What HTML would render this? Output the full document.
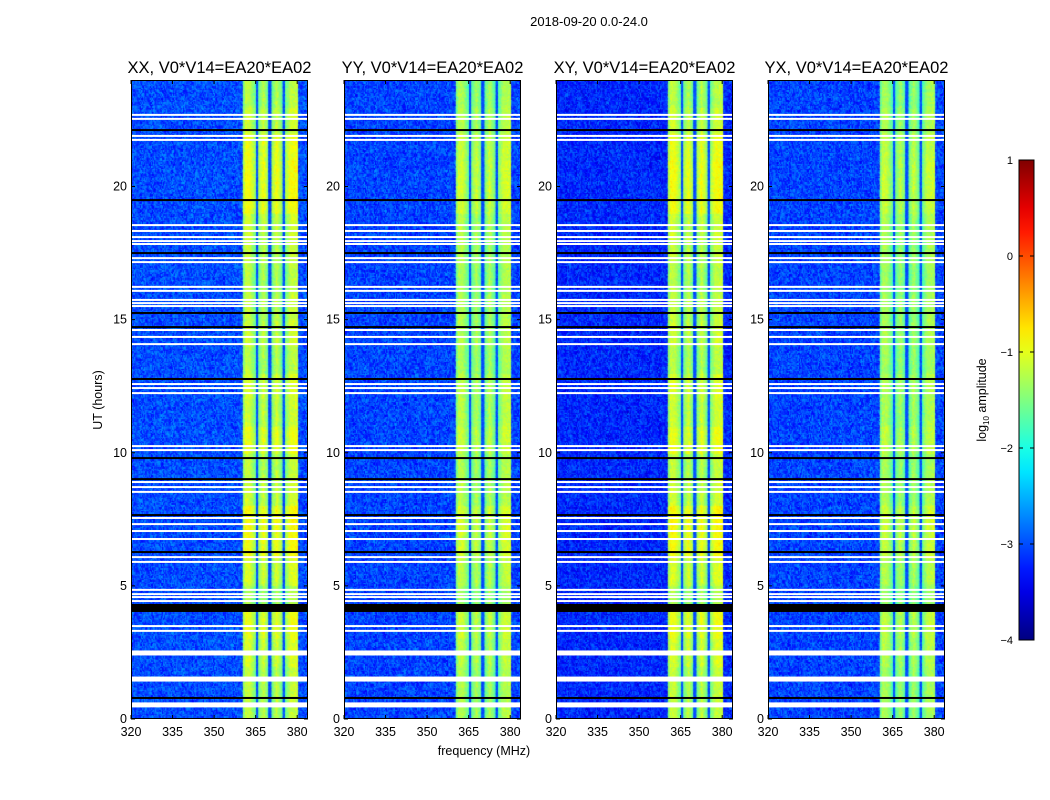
<!DOCTYPE html>
<html><head><meta charset="utf-8">
<style>
html,body{margin:0;padding:0;background:#fff;}
body{width:1050px;height:800px;position:relative;overflow:hidden;font-family:"Liberation Sans","DejaVu Sans",sans-serif;}
</style></head>
<body>
<svg id="fig" width="1050" height="800" viewBox="0 0 1050 800" xmlns="http://www.w3.org/2000/svg" style="position:absolute;left:0;top:0">
<text x="589" y="26" font-size="13" text-anchor="middle" fill="#000">2018-09-20 0.0-24.0</text>
<text x="0" y="0" font-size="12.5" text-anchor="middle" transform="translate(102,400) rotate(-90)">UT (hours)</text>
<text x="484" y="755" font-size="12.5" text-anchor="middle">frequency (MHz)</text>
<g id="panels"></g>
<g id="cbar"></g>
</svg>
<script>
// ---- data ----
const panelTitles = ["XX, V0*V14=EA20*EA02","YY, V0*V14=EA20*EA02","XY, V0*V14=EA20*EA02","YX, V0*V14=EA20*EA02"];
const xTicks = [320,335,350,365,380];
const yTicks = [0,5,10,15,20];
const cbarTicks = [1,0,-1,-2,-3,-4];
const bgLevel = [-3.0,-3.05,-3.2,-3.05];      // log10 amplitude off-band per panel
const bandLevel = [-1.25,-1.3,-1.25,-1.35];   // in-band level per panel
const bandStart = 360, bandEnd = 380;
const stripeFreqs = [365.5,370.2,375.2];
// per-hour in-band boost (0..23)
const hourBoost = [0.1,0.1,0.2,0.3,0.0,0.2,0.35,0.4,0.15,0.1,0.3,0.15,0.2,0.05,0.15,0.1,0.05,0.1,0.15,0.35,0.35,0.3,0.15,0.05];
// flagged (white) rows, hours
const flagWhite = [22.69,22.54,21.90,21.75,18.55,18.33,18.10,17.95,17.84,17.31,17.16,16.23,16.08,15.74,15.62,15.51,14.61,14.35,14.08,12.58,12.43,12.24,10.25,10.10,8.90,8.71,8.53,7.55,7.32,7.06,6.76,6.08,5.90,4.85,4.69,4.58,4.43,4.28,3.49,3.31];
const flagWhiteThick = [2.48,1.50,0.53];
const flagBlack = [22.12,19.49,17.50,15.25,14.72,12.77,9.80,9.01,7.66,6.27,0.79];
const flagBlackThick = [4.17];

// ---- layout ----
const panelX = [131,344,556,768], PW = 177, PT = 80, PB = 719;
const fmin = 320, fmax = 383.9, tmax = 24;
const xs = (i,f)=>panelX[i] + (f-fmin)/(fmax-fmin)*PW;
const ys = t=> PB - t/tmax*(PB-PT);
const NS = "http://www.w3.org/2000/svg";
function jet(v){
  const c=x=>Math.max(0,Math.min(1,x));
  const r=c(1.5-Math.abs(4*v-3)), g=c(1.5-Math.abs(4*v-2)), b=c(1.5-Math.abs(4*v-1));
  return `rgb(${Math.round(r*255)},${Math.round(g*255)},${Math.round(b*255)})`;
}
const norm = v=>(v+4)/5;
function hash(a,b){let h=(a*374761393+b*668265263)^0x5bd1e995;h=(h^(h>>>13))*1274126177;return ((h^(h>>>16))>>>0)/4294967295;}
function el(tag,attrs,parent){const e=document.createElementNS(NS,tag);for(const k in attrs)e.setAttribute(k,attrs[k]);parent.appendChild(e);return e;}

const panels = document.getElementById('panels');
panelTitles.forEach((title,i)=>{
  const g = el('g',{},panels);
  
  
  const fo = el('foreignObject',{x:panelX[i],y:PT,width:PW,height:PB-PT},g);
  const cv = document.createElement('canvas');
  cv.width=PW; cv.height=PB-PT;
  
  
  fo.appendChild(cv);
  const ctx = cv.getContext('2d');
  const df=0.4, dt=0.05;
  for(let f=fmin; f<fmax; f+=df){
    for(let t=0; t<tmax; t+=dt){
      const n = hash(Math.round(f*2.5)+i*1000, Math.round(t*20));
      let v;
      if(f>=bandStart && f<bandEnd){
        const dist = Math.min(...stripeFreqs.map(s=>Math.abs(f+df/2-s)));
        v = bandLevel[i] + hourBoost[Math.floor(t)]*(i%2===0?1:0.6) + (n-0.5)*0.35;
        v -= Math.max(0,0.6-dist*0.25);
        if(dist<0.45) v = -3.0 + (n-0.5)*0.3;
        if(f<bandStart+1) v -= 0.25;
      } else {
        v = bgLevel[i] + (n-0.5)*0.8;
      }
      ctx.fillStyle = jet(Math.max(0,Math.min(1,norm(v))));
      const x0 = xs(i,f)-panelX[i], x1 = xs(i,f+df)-panelX[i];
      const y0 = ys(t+dt)-PT, y1 = ys(t)-PT;
      ctx.fillRect(x0,Math.floor(y0),x1-x0+0.3,Math.ceil(y1-y0)+1);
    }
  }
  const drawFlag=(t,h,col,name)=>{
    const r = el('rect',{x:panelX[i],y:ys(t)-h/2,width:PW,height:h,fill:col},g);
    
    
  };
  flagWhite.forEach(t=>drawFlag(t,2,'#fff','flagged-row'));
  flagWhiteThick.forEach(t=>drawFlag(t,5,'#fff','flagged-row'));
  flagBlack.forEach(t=>drawFlag(t,2,'#000','zero-row'));
  flagBlackThick.forEach(t=>drawFlag(t,8,'#000','zero-row'));
  const fr = el('rect',{x:panelX[i]+0.5,y:PT+0.5,width:PW-1,height:PB-PT-1,fill:'none',stroke:'#000','stroke-width':1},g);
  
  
  const tt = el('text',{x:panelX[i]+PW/2,y:73,'font-size':16.5,'text-anchor':'middle'},g);
  tt.textContent = title;
  
  
  xTicks.forEach(f=>{
    const x = xs(i,f);
    el('line',{x1:x,x2:x,y1:PB,y2:PB-4,stroke:'#000'},g);
    el('line',{x1:x,x2:x,y1:PT,y2:PT+4,stroke:'#000'},g);
    const tx = el('text',{x:x,y:PB+17,'font-size':12.5,'text-anchor':'middle'},g);
    tx.textContent = f;
    
    
  });
  yTicks.forEach(t=>{
    const y = ys(t);
    el('line',{x1:panelX[i],x2:panelX[i]+4,y1:y,y2:y,stroke:'#000'},g);
    el('line',{x1:panelX[i]+PW,x2:panelX[i]+PW-4,y1:y,y2:y,stroke:'#000'},g);
    const ty = el('text',{x:panelX[i]-4,y:y+4,'font-size':12.5,'text-anchor':'end'},g);
    ty.textContent = t;
    
    
  });
});

// colorbar
const cb = document.getElementById('cbar');
const CX=1019, CW=15, CT=160, CB=640;
const defs = el('defs',{},cb);
const grad = el('linearGradient',{id:'jetg',x1:0,y1:1,x2:0,y2:0},defs);
for(let k=0;k<=20;k++){el('stop',{offset:k/20,'stop-color':jet(k/20)},grad);}
el('rect',{x:CX,y:CT,width:CW,height:CB-CT,fill:'url(#jetg)',stroke:'#000','stroke-width':1},cb);
cbarTicks.forEach(v=>{
  const y = CB - norm(v)*(CB-CT);
  el('line',{x1:CX,x2:CX+4,y1:y,y2:y,stroke:'#000'},cb);
  el('line',{x1:CX+CW,x2:CX+CW-4,y1:y,y2:y,stroke:'#000'},cb);
  const t = el('text',{x:CX-6,y:y+4,'font-size':11,'text-anchor':'end'},cb);
  t.textContent = v<0 ? '\u2212'+(-v) : v;
  
  
});
const cl = el('text',{x:0,y:0,'font-size':12.5,'text-anchor':'middle',transform:'translate(986,400) rotate(-90)'},cb);
cl.innerHTML = 'log<tspan font-size="8" dy="3">10</tspan><tspan dy="-3"> amplitude</tspan>';


</script>
</body></html>
